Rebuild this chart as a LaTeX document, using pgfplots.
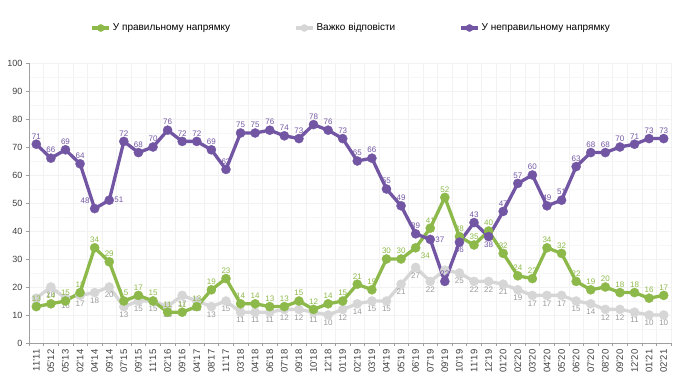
\documentclass[border=0pt]{standalone}
\usepackage{pgfplots}
\pgfplotsset{compat=1.18}
\usepackage{fontspec}
\setmainfont{Liberation Sans}
\definecolor{cgreen}{HTML}{8DB94A}
\definecolor{cpurple}{HTML}{7256A3}
\definecolor{cgray}{HTML}{D6D6D6}
\definecolor{cgraytxt}{HTML}{9A9A9A}

\begin{document}
\begin{tikzpicture}
\begin{axis}[
  name=ax,
  scale only axis,
  width=642pt, height=280pt,
  xmin=-0.5, xmax=43.5, ymin=0, ymax=100,
  axis lines*=left,
  axis line style={draw=gray!75, line width=0.6pt},
  ytick={0,10,...,100},
  minor y tick num=1,
  minor tick length=0pt,
  xtick={-0.5,0.5,...,43.5},
  x tick label as interval,
  xticklabels={11'11,05'12,05'13,02'14,04'14,09'14,07'15,09'15,11'15,02'16,09'16,04'17,08'17,11'17,03'18,04'18,06'18,07'18,09'18,10'18,12'18,01'19,02'19,03'19,04'19,05'19,06'19,07'19,09'19,10'19,11'19,12'19,01'20,02'20,03'20,04'20,05'20,06'20,07'20,08'20,09'20,12'20,01'21,02'21},
  tick align=outside,
  major tick length=3pt,
  tick style={draw=gray!75, line width=0.5pt},
  x tick label style={rotate=90, anchor=east, font=\fontsize{9.5}{10}\selectfont, text=black!75},
  y tick label style={font=\fontsize{9}{10}\selectfont, text=black!75},
  /pgf/number format/assume math mode=true,
  ymajorgrids, yminorgrids, xmajorgrids,
  major grid style={draw=gray!10, line width=0.4pt},
  minor grid style={draw=gray!7, line width=0.4pt},
  clip=false,
  legend columns=3,
  legend cell align=left,
  legend style={at={(0.502,1.125)}, anchor=center, draw=none, fill=none,
    font=\fontsize{10}{11}\selectfont,
    /tikz/every even column/.append style={column sep=62pt}},
]
\addlegendimage{color=cgreen, line width=3.3pt, mark=*, mark size=3.6pt, mark options={fill=cgreen, draw=cgreen, line width=0.3pt}}
\addlegendentry{У правильному напрямку}
\addlegendimage{color=cgray, line width=3.3pt, mark=*, mark size=3.6pt, mark options={fill=cgray, draw=cgray, line width=0.3pt}}
\addlegendentry{Важко відповісти}
\addlegendimage{color=cpurple, line width=3.3pt, mark=*, mark size=3.6pt, mark options={fill=cpurple, draw=cpurple, line width=0.3pt}}
\addlegendentry{У неправильному напрямку}

\addplot[forget plot, color=cgray, line width=3.3pt, mark=*, mark size=4.6pt, mark options={fill=cgray, draw=cgray, line width=0.3pt},
  point meta=explicit symbolic, nodes near coords,
  visualization depends on={value \thisrow{a}\as\anc},
  every node near coord/.append style={anchor=\anc, font=\fontsize{8}{9}\selectfont, inner sep=5pt, text=cgraytxt}]
  table[x=x, y=y, meta=l] {
x y l a
0 16 16 north
1 20 20 north
2 16 16 north
3 17 17 north
4 18 18 north
5 20 20 north
6 13 13 north
7 15 15 north
8 15 15 north
9 13 13 north
10 17 17 north
11 15 15 north
12 13 13 north
13 15 15 north
14 11 11 north
15 11 11 north
16 11 11 north
17 12 12 north
18 12 12 north
19 11 11 north
20 10 10 north
21 12 12 north
22 14 14 north
23 15 15 north
24 15 15 north
25 21 21 north
26 27 27 north
27 22 22 north
28 26 {} north
29 25 25 north
30 22 22 north
31 22 22 north
32 21 21 north
33 19 19 north
34 17 17 north
35 17 17 north
36 17 17 north
37 15 15 north
38 14 14 north
39 12 12 north
40 12 12 north
41 11 11 north
42 10 10 north
43 10 10 north
};
\addplot[forget plot, color=cgreen, line width=3.3pt, mark=*, mark size=4.6pt, mark options={fill=cgreen, draw=cgreen, line width=0.3pt},
  point meta=explicit symbolic, nodes near coords,
  visualization depends on={value \thisrow{a}\as\anc},
  every node near coord/.append style={anchor=\anc, font=\fontsize{8}{9}\selectfont, inner sep=5pt, text=cgreen}]
  table[x=x, y=y, meta=l] {
x y l a
0 13 13 south
1 14 14 south
2 15 15 south
3 18 18 south
4 34 34 south
5 29 29 south
6 15 15 south
7 17 17 south
8 15 15 south
9 11 11 south
10 11 11 south
11 13 13 south
12 19 19 south
13 23 23 south
14 14 14 south
15 14 14 south
16 13 13 south
17 13 13 south
18 15 15 south
19 12 12 south
20 14 14 south
21 15 15 south
22 21 21 south
23 19 19 south
24 30 30 south
25 30 30 south
26 34 34 {north west}
27 41 41 south
28 52 52 south
29 38 38 south
30 35 35 south
31 40 40 south
32 32 32 south
33 24 24 south
34 23 23 south
35 34 34 south
36 32 32 south
37 22 22 south
38 19 19 south
39 20 20 south
40 18 18 south
41 18 18 south
42 16 16 south
43 17 17 south
};
\addplot[forget plot, color=cpurple, line width=3.3pt, mark=*, mark size=4.6pt, mark options={fill=cpurple, draw=cpurple, line width=0.3pt},
  point meta=explicit symbolic, nodes near coords,
  visualization depends on={value \thisrow{a}\as\anc},
  every node near coord/.append style={anchor=\anc, font=\fontsize{8}{9}\selectfont, inner sep=5pt, text=cpurple}]
  table[x=x, y=y, meta=l] {
x y l a
0 71 71 south
1 66 66 south
2 69 69 south
3 64 64 south
4 48 48 {south east}
5 51 51 west
6 72 72 south
7 68 68 south
8 70 70 south
9 76 76 south
10 72 72 south
11 72 72 south
12 69 69 south
13 62 62 south
14 75 75 south
15 75 75 south
16 76 76 south
17 74 74 south
18 73 73 south
19 78 78 south
20 76 76 south
21 73 73 south
22 65 65 south
23 66 66 south
24 55 55 south
25 49 49 south
26 39 39 south
27 37 37 west
28 22 22 south
29 36 36 north
30 43 43 south
31 38 38 north
32 47 47 south
33 57 57 south
34 60 60 south
35 49 49 south
36 51 51 south
37 63 63 south
38 68 68 south
39 68 68 south
40 70 70 south
41 71 71 south
42 73 73 south
43 73 73 south
};
\end{axis}
\pgfresetboundingbox
\path (ax.south west) ++(-29pt,-44pt) rectangle ++(690pt,387pt);
\end{tikzpicture}
\end{document}
